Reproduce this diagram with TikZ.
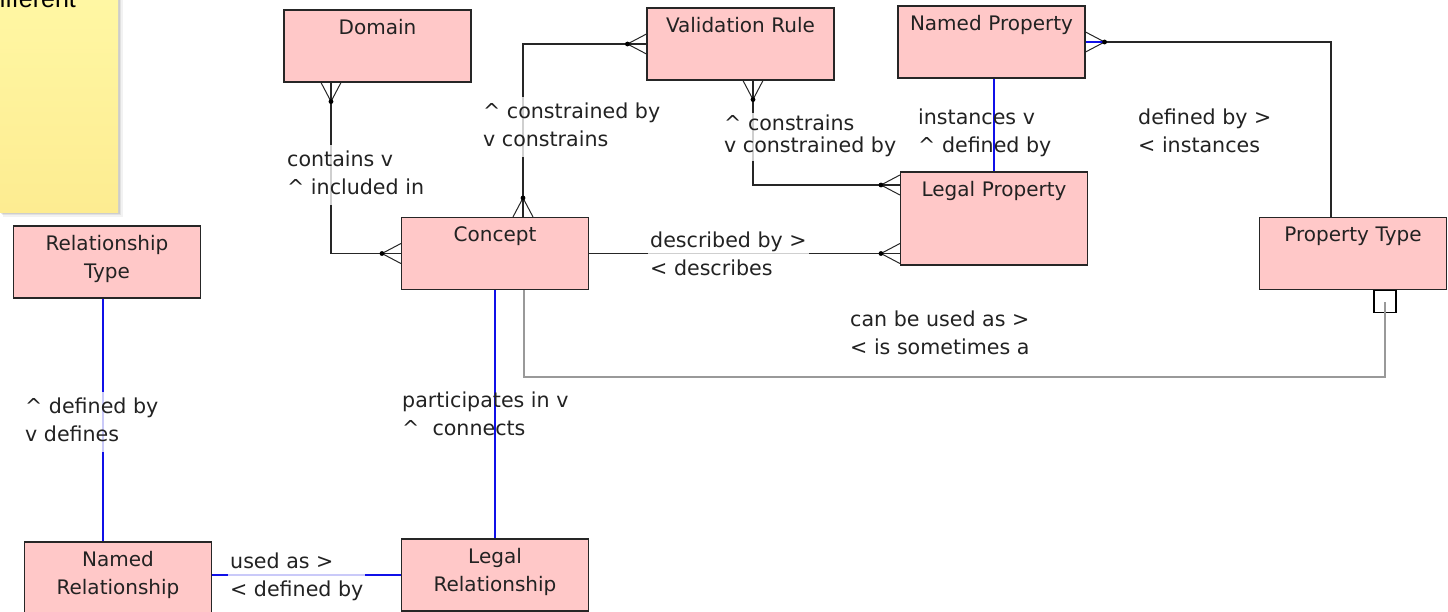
\documentclass[tikz,border=0pt]{standalone}
\usepackage{fontspec}
\setmainfont{DejaVu Sans}
\newfontfamily\notefont{Liberation Sans}
\definecolor{boxpink}{HTML}{FFC8C8}
\definecolor{notetop}{HTML}{FFF7A3}
\definecolor{notebot}{HTML}{FDEC91}
\definecolor{txt}{HTML}{222222}
\definecolor{relblue}{HTML}{1010E8}
\begin{document}
\begin{tikzpicture}[x=1pt,y=-1pt,
  entity/.style={draw=black!85, fill=boxpink, line width=1.1pt,
    text width=187pt, align=center, inner sep=0pt,
    text height=24pt, text depth=48pt, text=txt,
    font=\fontsize{20}{28.5}\selectfont},
  conn/.style={draw=black!85, line width=1.3pt},
  relline/.style={draw=relblue, line width=1.3pt},
  optline/.style={draw=black!40, line width=1.3pt},
  role/.style={anchor=base west, inner sep=2pt, text=txt,
    fill=white, fill opacity=0.78, text opacity=1,
    font=\fontsize{20.6}{28}\selectfont},
  roleplain/.style={role, fill=none},
  crow/.pic={
    \draw[conn, line width=1pt] (-19,0) -- (0,10) (-19,0) -- (0,-10);
    \draw[conn, line width=1pt] (-19,0) -- (0,0);
    \fill[black] (-19,0) circle (2.4pt);
  },
  crowblue/.pic={
    \draw[conn, line width=1pt] (-19,0) -- (0,10) (-19,0) -- (0,-10);
    \draw[relline] (-19,0) -- (0,0);
    \fill[black] (-19,0) circle (2.4pt);
  }
]
\useasboundingbox (0,0) rectangle (1448,611);

% sticky note
\fill[black, opacity=0.05] (3,0) rectangle (123,217);
\fill[black, opacity=0.07] (2,0) rectangle (121,215);
\fill[black, opacity=0.09] (1,0) rectangle (119.5,213.5);
\shade[top color=notetop, bottom color=notebot] (0,0) rectangle (118,212);
\node[anchor=base west, inner sep=0pt, text=black,
  font=\notefont\fontsize{25}{28}\selectfont] (notetext) at (-14.2,7) {different};

% entities
\node[entity] (dom) at (377.5,46) {Domain};
\node[entity] (vr)  at (740.5,44) {Validation Rule};
\node[entity] (np)  at (991.5,42) {Named Property};
\node[entity, text depth=69pt] (lp) at (994,218.5) {Legal Property};
\node[entity] (con) at (495,253.5) {Concept};
\node[entity] (pt)  at (1353,253.5) {Property Type};
\node[entity] (rt)  at (107,262) {Relationship\\Type};
\node[entity] (nr)  at (118,578) {Named\\Relationship};
\node[entity] (lr)  at (495,575) {Legal\\Relationship};

% helper points on the entity borders
\coordinate (domfoot) at ([xshift=-46.5pt]dom.south);
\coordinate (contop)  at ([xshift=28pt]con.north);
\coordinate (vrfoot)  at ([xshift=12.5pt]vr.south);
\coordinate (lpleft)  at ([yshift=33.5pt]lp.west);
\coordinate (pttop)   at ([xshift=-22pt]pt.north);
\coordinate (conbot)  at ([xshift=29pt]con.south);
\coordinate (rtfoot)  at ([xshift=-4pt]rt.south);
\node[draw=black, line width=1.1pt, minimum size=22pt, inner sep=0pt,
  anchor=north] (ptend) at ([xshift=32pt]pt.south) {};

% connectors
\draw[conn] (domfoot) |- (con.west);
\draw[conn] (contop) |- (vr.west);
\draw[conn] (vrfoot) |- (lpleft);
\draw[conn] (con.east) -- (con.east -| lp.west);
\draw[conn] (np.east) -| (pttop);
\draw[optline] (conbot) -- ++(0,87) -| (ptend.center);
\draw[relline] (lp.north) -- (lp.north |- np.south);
\draw[relline] (rtfoot) -- (rtfoot |- nr.north);
\draw[relline] (con.south) -- (lr.north);
\draw[relline] (lr.west) -- (lr.west -| nr.east);

% crow's feet
\pic[rotate=90]  at (domfoot) {crow};
\pic[rotate=0]   at (con.west) {crow};
\pic[rotate=-90] at (contop) {crow};
\pic[rotate=0]   at (vr.west) {crow};
\pic[rotate=90]  at (vrfoot) {crow};
\pic[rotate=0]   at (lpleft) {crow};
\pic[rotate=0]   at (con.east -| lp.west) {crow};
\pic[rotate=180] at (np.east) {crowblue};

% role names
\node[role] (r1) at (285,166.5) {\begin{tabular}[t]{@{}l@{}}contains v\\\textasciicircum{} included in\end{tabular}};
\node[role] (r2) at (481,118.5) {\begin{tabular}[t]{@{}l@{}}\textasciicircum{} constrained by\\v constrains\end{tabular}};
\node[role, font=\fontsize{20.6}{22}\selectfont] (r3) at (722,130.5) {\begin{tabular}[t]{@{}l@{}}\textasciicircum{} constrains\\v constrained by\end{tabular}};
\node[roleplain] (r4) at (916,124.5) {\begin{tabular}[t]{@{}l@{}}instances v\\\textasciicircum{} defined by\end{tabular}};
\node[role] (r5) at (1136,124.5) {\begin{tabular}[t]{@{}l@{}}defined by >\\< instances\end{tabular}};
\node[role] (r6) at (648,247.5) {\begin{tabular}[t]{@{}l@{}}described by >\\< describes\end{tabular}};
\node[role] (r7) at (848,326.5) {\begin{tabular}[t]{@{}l@{}}can be used as >\\< is sometimes a\end{tabular}};
\node[role] (r8) at (23,413.5) {\begin{tabular}[t]{@{}l@{}}\textasciicircum{} defined by\\v defines\end{tabular}};
\node[roleplain] (r9) at (400,407.5) {\begin{tabular}[t]{@{}l@{}}participates in v\\\textasciicircum{}\ \ connects\end{tabular}};
\node[role] (r10) at (228,568.5) {\begin{tabular}[t]{@{}l@{}}used as >\\< defined by\end{tabular}};
\end{tikzpicture}
\end{document}
